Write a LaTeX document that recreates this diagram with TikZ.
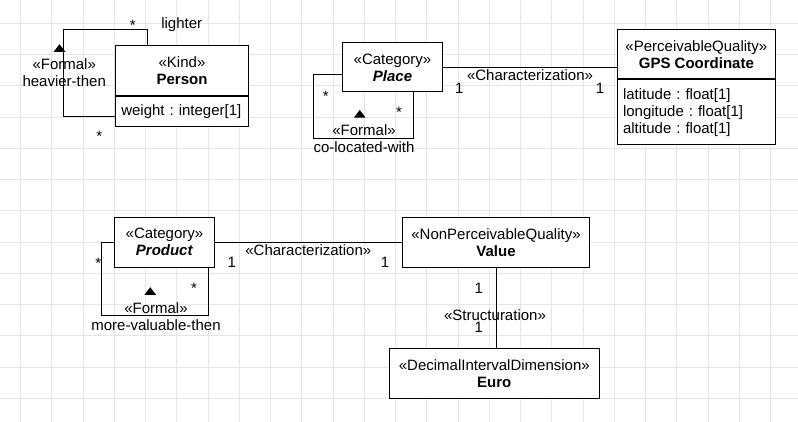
\documentclass[tikz,border=0pt]{standalone}
\usepackage{fontspec}
\setmainfont{Liberation Sans}
\usetikzlibrary{calc}
\newcommand{\umlfont}{\fontsize{15}{17}\selectfont\frenchspacing}

\begin{document}
\begin{tikzpicture}[x=1pt,y=-1pt,line width=1pt]
\tikzset{
gridline/.style = {draw=black!10,line width=1pt},
classbox/.style = {draw,fill=white,inner sep=0pt,align=center,font=\umlfont},
attrbox/.style = {draw,fill=white,inner xsep=6pt,inner ysep=0pt,align=left,font=\umlfont},
lbl/.style = {inner sep=0pt,text height=11pt,text depth=3pt,font=\umlfont},
lbl2/.style = {inner sep=0pt,align=center,font=\umlfont},
formaltri/.pic = {\fill (-5.8,3.8) -- (5.8,3.8) -- (0,-3.8) -- cycle;},
}
    %
\fill[white] (0,0) rectangle (798,422);
\useasboundingbox (0,0) rectangle (798,422);
% Grid.
\foreach \i in {0,...,24}
  \draw[gridline] ({20.7+31.25*\i},0) -- ++(0,422);
\foreach \j in {0,...,12}
  \draw[gridline] (0,{23.3+31.25*\j}) -- ++(798,0);

% Classes.
\node[classbox,minimum width=133.4,minimum height=50] (Person) at (182,70.7) {«Kind»\\\textbf{Person}};
\node[attrbox,text width=121.4,minimum height=29.6,anchor=north] (PersonAttr) at (Person.south) {\mbox{weight : integer[1]}};
\node[classbox,minimum width=100.4,minimum height=49.3] (Place) at (392.5,67.35) {«Category»\\\textbf{\textit{Place}}};
\node[classbox,minimum width=158.7,minimum height=49.3] (GPS) at (696.35,54.35) {«PerceivableQuality»\\\textbf{GPS Coordinate}};
\node[attrbox,text width=146.7,minimum height=65,anchor=north] (GPSAttr) at (GPS.south) {latitude : float[1]\\longitude : float[1]\\altitude : float[1]};
\node[classbox,minimum width=100.4,minimum height=50] (Product) at (164.5,242.3) {«Category»\\\textbf{\textit{Product}}};
\node[classbox,minimum width=186.6,minimum height=50] (Value) at (496,242.3) {«NonPerceivableQuality»\\\textbf{Value}};
\node[classbox,minimum width=210,minimum height=49.6] (Euro) at (494.3,373.5) {«DecimalIntervalDimension»\\\textbf{Euro}};

% Associations.
\draw ($(Person.north west)+(33,0)$) |- ++(-84,-16) |- ($(PersonAttr.west)+(0,4.8)$);
\draw ($(Place.west)+(0,7)$) -| ++(-28,64) -| ($(Place.south west)+(72,0)$);
\draw (Place.east) -- (Place.east -| GPS.west);
\draw (Product.west) -| ++(-12,72.7) -| ($(Product.south west)+(95,0)$);
\draw (Product.east) -- (Value.west);
\draw (Value.south) -- (Value.south |- Euro.north);

% Person labels.
\node[lbl] (lighterLbl) at (181.7,25) {lighter};
\node[lbl] (personStarA) at (132.7,26.6) {*};
\node[lbl] (personStarB) at (99.3,138) {*};
\node[lbl2] (heavierLbl) at (64.2,72.7) {«Formal»\\heavier-then};
\pic at (59.5,48) {formaltri};

% Place labels.
\node[lbl] (placeStarA) at (325.7,97.3) {*};
\node[lbl] (placeStarB) at (399,114) {*};
\node[lbl2] (colocLbl) at (364,138.7) {«Formal»\\co-located-with};
\pic at (359.7,113.8) {formaltri};
\node[lbl] (charTopLbl) at (530,76.7) {«Characterization»};
\node[lbl] (placeOne) at (459.3,89.7) {1};
\node[lbl] (gpsOne) at (600,89.7) {1};

% Product and Value labels.
\node[lbl] (productStarA) at (98.3,264.6) {*};
\node[lbl] (productStarB) at (194,289.6) {*};
\node[lbl2] (valuableLbl) at (156,316.5) {«Formal»\\more-valuable-then};
\pic at (150.2,291) {formaltri};
\node[lbl] (charBotLbl) at (308.3,251.7) {«Characterization»};
\node[lbl] (productOne) at (231.7,264) {1};
\node[lbl] (valueOne) at (385,264) {1};
\node[lbl] (valueOneB) at (478.7,289.7) {1};
\node[lbl] (structLbl) at (495,316) {«Structuration»};
\node[lbl] (euroOne) at (478.7,328) {1};
    %
\end{tikzpicture}
\end{document}
